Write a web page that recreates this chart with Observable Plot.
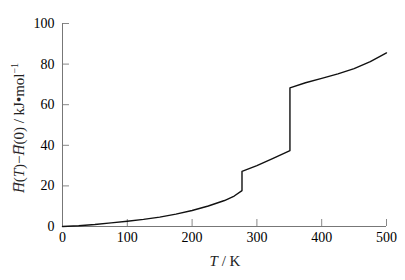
<!DOCTYPE html>
<html><head><meta charset="utf-8">
<script src="https://cdn.jsdelivr.net/npm/d3@7"></script>
<script src="https://cdn.jsdelivr.net/npm/@observablehq/plot@0.6"></script>
<style>body{margin:0;background:#fff;}</style></head><body><div id="chart"></div>
<script>
const temperatures = [0,25,50,75,100,125,150,175,200,225,250,265,277,277,300,325,351,351,375,400,425,450,475,500];
const enthalpy = [0,0.4,1.0,1.8,2.6,3.5,4.6,6.1,7.9,10.1,12.8,15.0,17.7,27.2,30.0,33.6,37.4,68.3,70.8,73.0,75.2,77.8,81.2,85.5];
const xTicks = [0,100,200,300,400,500];
const yTicks = [0,20,40,60,80,100];
const data = temperatures.map((t,i)=>({T:t,H:enthalpy[i]}));

const plot = Plot.plot({
  width:405, height:280,
  marginLeft:62, marginRight:19, marginTop:23, marginBottom:54,
  style:{fontFamily:"Times New Roman", fontSize:"14px"},
  x:{domain:[0,500], ticks:xTicks, tickSize:-7, tickPadding:13, label:null},
  y:{domain:[0,100], ticks:yTicks, tickSize:-7, tickPadding:15, label:null},
  marks:[
    Plot.ruleX([0],{stroke:"#777"}),
    Plot.ruleY([0],{stroke:"#777"}),
    Plot.line(data,{x:"T",y:"H",stroke:"#111",strokeWidth:1.4})
  ]
});
document.getElementById("chart").appendChild(plot);
const svg = d3.select(plot);
svg.selectAll("g[aria-label$='axis'] path, g[aria-label$='tick'] path").attr("stroke","#888");
const xl = svg.append("text").attr("x",225).attr("y",266).attr("text-anchor","middle")
  .attr("font-family","Times New Roman").attr("font-size","15px").attr("fill","#222");
xl.append("tspan").attr("font-style","italic").text("T");
xl.append("tspan").text(" / K");
const yl = svg.append("text").attr("transform","translate(24,128) rotate(-90)").attr("text-anchor","middle")
  .attr("font-family","Times New Roman").attr("font-size","15px").attr("fill","#222");
yl.append("tspan").attr("font-style","italic").text("H\u0305");
yl.append("tspan").text("(");
yl.append("tspan").attr("font-style","italic").text("T");
yl.append("tspan").text(")\u2212");
yl.append("tspan").attr("font-style","italic").text("H\u0305");
yl.append("tspan").text("(0) / kJ\u2022mol");
yl.append("tspan").attr("font-size","10px").attr("dy","-6").text("\u22121");
</script></body></html>
